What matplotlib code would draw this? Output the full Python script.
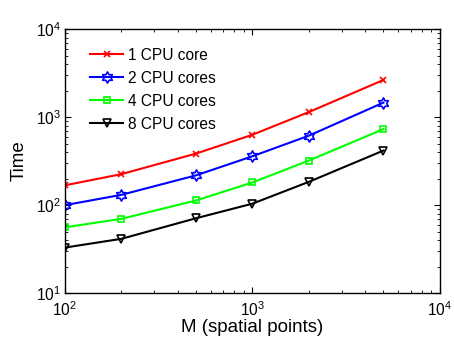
import numpy as np
import matplotlib
matplotlib.use('Agg')
import matplotlib.pyplot as plt
from matplotlib.path import Path

plt.rcParams['font.family'] = ['Liberation Sans', 'DejaVu Sans']
plt.rcParams['mathtext.fontset'] = 'custom'
plt.rcParams['mathtext.rm'] = 'Liberation Sans'
plt.rcParams['mathtext.it'] = 'Liberation Sans'

m_points = [100, 200, 500, 1000, 2000, 5000]
time_1core = [168, 225, 385, 630, 1140, 2640]
time_2cores = [100, 131, 218, 359, 615, 1460]
time_4cores = [56, 70, 113, 181, 321, 730]
time_8cores = [33, 41.5, 71, 104, 184, 417]
labels = ['1 CPU core', '2 CPU cores', '4 CPU cores', '8 CPU cores']


def hexagram():
    verts = []
    for k in range(12):
        ang = np.deg2rad(90 + 30 * k)
        r = 1.0 if k % 2 == 0 else 1 / np.sqrt(3)
        verts.append((r * np.cos(ang), r * np.sin(ang)))
    verts.append(verts[0])
    return Path(verts, closed=True)


fig = plt.figure(figsize=(4.54, 3.41), dpi=100)
ax = fig.add_axes([0.143, 0.14, 0.826, 0.775])

series = [
    (time_1core, 'red', 'x', 5),
    (time_2cores, 'blue', hexagram(), 8),
    (time_4cores, '#00ff00', 's', 4.5),
    (time_8cores, 'black', 'v', 6),
]
for (vals, col, mk, ms), lab in zip(series, labels):
    ax.plot(m_points, vals, color=col, marker=mk, markersize=ms, linewidth=1.5,
            markerfacecolor='none', markeredgecolor=col, markeredgewidth=1.2, label=lab)

ax.set_xscale('log')
ax.set_yscale('log')
ax.set_xlim(100, 10000)
ax.set_ylim(10, 10000)

ax.tick_params(which='both', direction='in', top=True, right=True, labelsize=11.2)
ax.tick_params(which='major', length=4, width=0.8)
ax.tick_params(which='minor', length=2, width=0.6)
ax.tick_params(axis='x', pad=5)
ax.tick_params(axis='y', pad=3)
for sp in ax.spines.values():
    sp.set_linewidth(1.0)

ax.set_xlabel('M (spatial points)', fontsize=13.5, labelpad=0)
ax.set_ylabel('Time', fontsize=13.5, labelpad=6)

ax.legend(loc='upper left', frameon=False, fontsize=11.2, handlelength=2.1,
          handletextpad=0.35, labelspacing=0.52, bbox_to_anchor=(0.018, 1.0),
          borderaxespad=0.8)

fig.savefig('out.png', dpi=100)
